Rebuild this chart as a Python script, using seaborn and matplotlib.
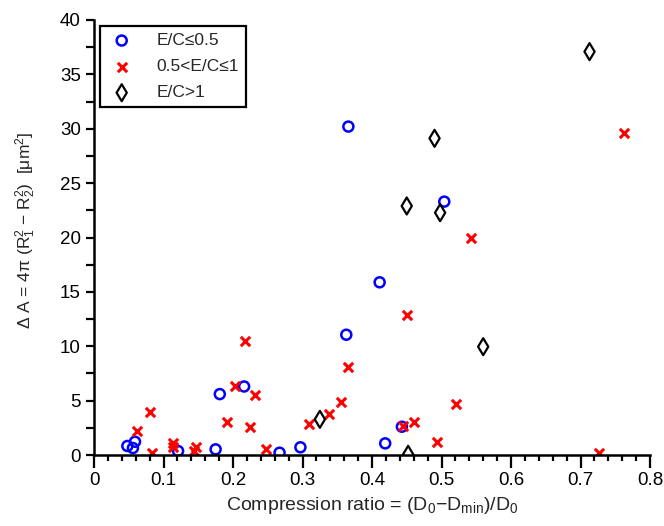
"""
Compression ratio vs. area change, grouped by E/C
"""
import numpy as np
import pandas as pd
import matplotlib
matplotlib.use("Agg")
import matplotlib.pyplot as plt
from matplotlib.ticker import MultipleLocator, FuncFormatter
import seaborn as sns

# E/C <= 0.5
low_x = [0.048, 0.056, 0.059, 0.121, 0.175, 0.181, 0.216, 0.267, 0.297,
         0.363, 0.366, 0.411, 0.419, 0.443, 0.504]
low_y = [0.83, 0.64, 1.22, 0.37, 0.52, 5.6, 6.3, 0.21, 0.71,
         11.06, 30.2, 15.88, 1.07, 2.6, 23.3]

# 0.5 < E/C <= 1
mid_x = [0.062, 0.080, 0.084, 0.113, 0.114, 0.144, 0.147, 0.191, 0.203,
         0.217, 0.225, 0.232, 0.248, 0.309, 0.338, 0.355, 0.366, 0.444,
         0.450, 0.461, 0.493, 0.521, 0.542, 0.727, 0.762]
mid_y = [2.2, 3.98, 0.21, 1.13, 0.77, 0.37, 0.71, 3.07, 6.34,
         10.48, 2.54, 5.52, 0.52, 2.85, 3.74, 4.88, 8.12, 2.67,
         12.84, 3.0, 1.17, 4.72, 19.92, 0.21, 29.6]

# E/C > 1
high_x = [0.325, 0.450, 0.452, 0.490, 0.498, 0.560, 0.713]
high_y = [3.28, 22.9, 0.06, 29.12, 22.28, 9.96, 37.09]

labels = ["E/C≤0.5", "0.5<E/C≤1", "E/C>1"]

df = pd.concat([
    pd.DataFrame({"ratio": low_x, "dA": low_y, "group": labels[0]}),
    pd.DataFrame({"ratio": mid_x, "dA": mid_y, "group": labels[1]}),
    pd.DataFrame({"ratio": high_x, "dA": high_y, "group": labels[2]}),
], ignore_index=True)

sns.set_theme(style="ticks")
plt.rcParams["font.family"] = ["Liberation Sans", "DejaVu Sans"]
plt.rcParams["mathtext.fontset"] = "custom"
plt.rcParams["mathtext.rm"] = "Liberation Sans"
plt.rcParams["mathtext.it"] = "Liberation Sans"
plt.rcParams["mathtext.default"] = "rm"

fig = plt.figure(figsize=(6.64, 5.26), dpi=100)
ax = fig.add_axes([94 / 664, 1 - 455 / 526, 556 / 664, 435 / 526])

sub = df[df.group == labels[0]]
sns.scatterplot(data=sub, x="ratio", y="dA", marker="o", s=52,
                facecolor="none", edgecolor="blue", linewidth=1.8,
                label=labels[0], ax=ax)
sub = df[df.group == labels[1]]
sns.scatterplot(data=sub, x="ratio", y="dA", marker="x", s=45,
                color="red", linewidth=2.2, label=labels[1], ax=ax)
sub = df[df.group == labels[2]]
sns.scatterplot(data=sub, x="ratio", y="dA", marker="d", s=75,
                facecolor="none", edgecolor="black", linewidth=1.6,
                label=labels[2], ax=ax)

ax.set_xlim(0, 0.8)
ax.set_ylim(0, 40)
ax.xaxis.set_major_locator(MultipleLocator(0.1))
ax.xaxis.set_minor_locator(MultipleLocator(0.02))
ax.yaxis.set_major_locator(MultipleLocator(5))
ax.yaxis.set_minor_locator(MultipleLocator(2.5))
ax.xaxis.set_major_formatter(FuncFormatter(lambda v, p: f"{v:g}"))

sns.despine(ax=ax)
for side in ["left", "bottom"]:
    ax.spines[side].set_linewidth(1.8)
    ax.spines[side].set_color("black")
ax.tick_params(which="both", labelsize=13.5, colors="black",
               direction="out", width=1.6)
ax.tick_params(axis="x", which="major", length=9)
ax.tick_params(axis="x", which="minor", length=4.5)
ax.tick_params(axis="y", which="both", length=6)

ax.set_xlabel(r"Compression ratio = (D$_0$$-$D$_{min}$)/D$_0$", fontsize=14)
ax.set_ylabel(r"$\Delta$ A = 4$\pi$ (R$_1^2$ $-$ R$_2^2$)  [$\mu$m$^2$]",
              fontsize=12.5)
ax.yaxis.set_label_coords(-0.10, 0.516)

leg = ax.legend(loc="upper left", bbox_to_anchor=(6 / 556, 429 / 435),
                borderaxespad=0, fontsize=12.5, frameon=True, fancybox=False,
                handlelength=1.7, handletextpad=1.15, borderpad=0.4,
                labelspacing=0.63)
leg.get_frame().set_edgecolor("black")
leg.get_frame().set_linewidth(1.6)
leg.get_frame().set_alpha(1)

fig.savefig("out.png", dpi=100)
